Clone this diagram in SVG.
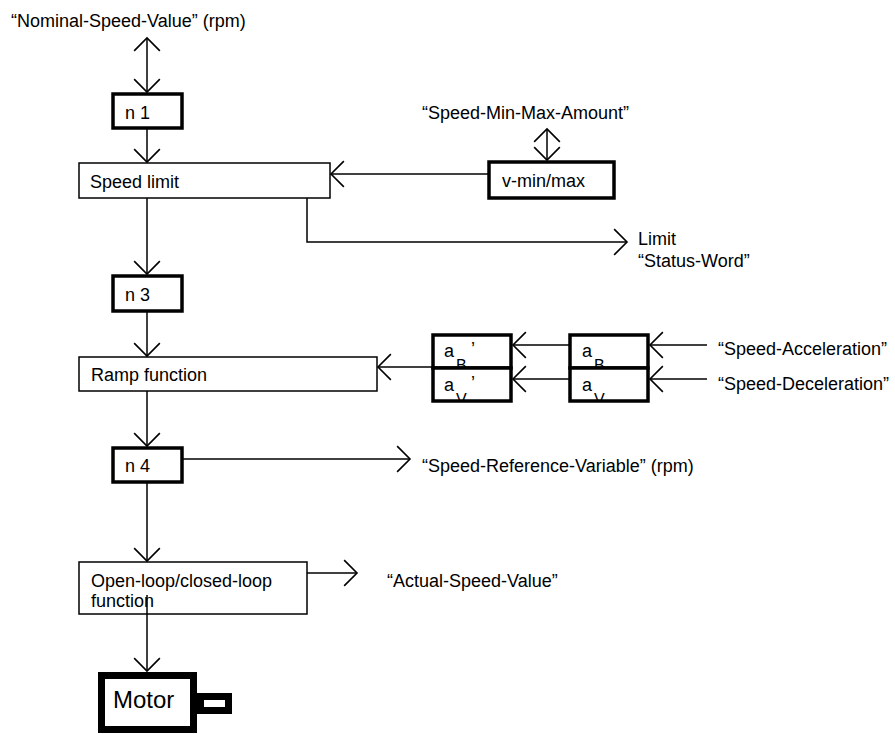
<svg xmlns="http://www.w3.org/2000/svg" width="895" height="734" viewBox="0 0 895 734">
<style>
text{font-family:"Liberation Sans",Arial,sans-serif;font-size:18px;fill:#000}
.sub{font-size:16px}
.thin{fill:#fff;stroke:#000;stroke-width:1.5}
.thick{fill:#fff;stroke:#000;stroke-width:3.5}
.ln{fill:none;stroke:#000;stroke-width:1.5}
</style>
<defs>
<marker id="ah" markerUnits="userSpaceOnUse" markerWidth="30" markerHeight="30" viewBox="-14 -14 28 28" refX="0" refY="0" orient="auto-start-reverse">
<path d="M-12,-12 L0,0 L-12,12" fill="none" stroke="#000" stroke-width="1.5"/>
</marker>
<clipPath id="cB1"><rect x="432" y="334" width="80" height="33"/></clipPath>
<clipPath id="cV1"><rect x="432" y="368" width="80" height="33"/></clipPath>
<clipPath id="cB2"><rect x="569" y="334" width="80" height="33"/></clipPath>
<clipPath id="cV2"><rect x="569" y="368" width="80" height="33"/></clipPath>
</defs>
<rect width="895" height="734" fill="#fff"/>

<g id="connectors">
<path class="ln" d="M147,38 V92" marker-start="url(#ah)" marker-end="url(#ah)"/>
<path class="ln" d="M147,128 V162" marker-end="url(#ah)"/>
<path class="ln" d="M488,174 H331" marker-end="url(#ah)"/>
<path class="ln" d="M547,129 V160" marker-start="url(#ah)" marker-end="url(#ah)"/>
<path class="ln" d="M307,198 V242 H627" marker-end="url(#ah)"/>
<path class="ln" d="M147,198 V274" marker-end="url(#ah)"/>
<path class="ln" d="M147,312 V356" marker-end="url(#ah)"/>
<path class="ln" d="M432,367 H378" marker-end="url(#ah)"/>
<path class="ln" d="M569,345 H513" marker-end="url(#ah)"/>
<path class="ln" d="M569,379 H513" marker-end="url(#ah)"/>
<path class="ln" d="M707,345 H650" marker-end="url(#ah)"/>
<path class="ln" d="M707,379 H650" marker-end="url(#ah)"/>
<path class="ln" d="M147,391 V446" marker-end="url(#ah)"/>
<path class="ln" d="M183,459 H410" marker-end="url(#ah)"/>
<path class="ln" d="M147,482 V561" marker-end="url(#ah)"/>
<path class="ln" d="M307,573 H357" marker-end="url(#ah)"/>
</g>

<g id="label-nominal"><text x="11" y="27">“Nominal-Speed-Value” (rpm)</text></g>
<g id="label-minmax"><text x="422" y="119">“Speed-Min-Max-Amount”</text></g>
<g id="label-limit"><text x="638" y="245">Limit</text><text x="638" y="267">“Status-Word”</text></g>
<g id="label-accel"><text x="718" y="355">“Speed-Acceleration”</text></g>
<g id="label-decel"><text x="718" y="390">“Speed-Deceleration”</text></g>
<g id="label-ref"><text x="422" y="472">“Speed-Reference-Variable” (rpm)</text></g>
<g id="label-actual"><text x="387" y="587">“Actual-Speed-Value”</text></g>

<g id="n1"><rect class="thick" x="113" y="94" width="69" height="34"/><text x="125" y="119">n 1</text></g>
<g id="speed-limit"><rect class="thin" x="79" y="163" width="251" height="35"/><text x="90" y="188">Speed limit</text></g>
<g id="vminmax"><rect class="thick" x="489" y="162" width="125" height="36"/><text x="502" y="187">v-min/max</text></g>
<g id="n3"><rect class="thick" x="113" y="276" width="69" height="35"/><text x="125" y="301">n 3</text></g>
<g id="ramp"><rect class="thin" x="79" y="357" width="298" height="34"/><text x="91" y="381">Ramp function</text></g>

<g id="aB-prime"><rect class="thick" x="433" y="335" width="78" height="33"/>
<g clip-path="url(#cB1)"><text x="444" y="357">a</text><text class="sub" x="456" y="371">B</text><text x="471" y="355">’</text></g></g>
<g id="aV-prime"><rect class="thick" x="433" y="368" width="78" height="33"/>
<g clip-path="url(#cV1)"><text x="444" y="391">a</text><text class="sub" x="456" y="405">V</text><text x="471" y="389">’</text></g></g>
<g id="aB"><rect class="thick" x="570" y="335" width="78" height="33"/>
<g clip-path="url(#cB2)"><text x="582" y="357">a</text><text class="sub" x="594" y="371">B</text></g></g>
<g id="aV"><rect class="thick" x="570" y="368" width="78" height="33"/>
<g clip-path="url(#cV2)"><text x="582" y="391">a</text><text class="sub" x="594" y="405">V</text></g></g>

<g id="n4"><rect class="thick" x="113" y="448" width="69" height="34"/><text x="125" y="472">n 4</text></g>
<g id="openloop"><rect class="thin" x="79" y="562" width="228" height="52"/><text x="91" y="587">Open-loop/closed-loop</text><text x="91" y="607">function</text>
<path class="ln" d="M147,595 V671" marker-end="url(#ah)"/></g>

<g id="motor"><rect x="200.5" y="696.5" width="28" height="14" fill="#fff" stroke="#000" stroke-width="7"/>
<rect x="101.5" y="675.5" width="92" height="54" fill="#fff" stroke="#000" stroke-width="7"/>
<text x="113" y="708" style="font-size:24px">Motor</text></g>
</svg>
